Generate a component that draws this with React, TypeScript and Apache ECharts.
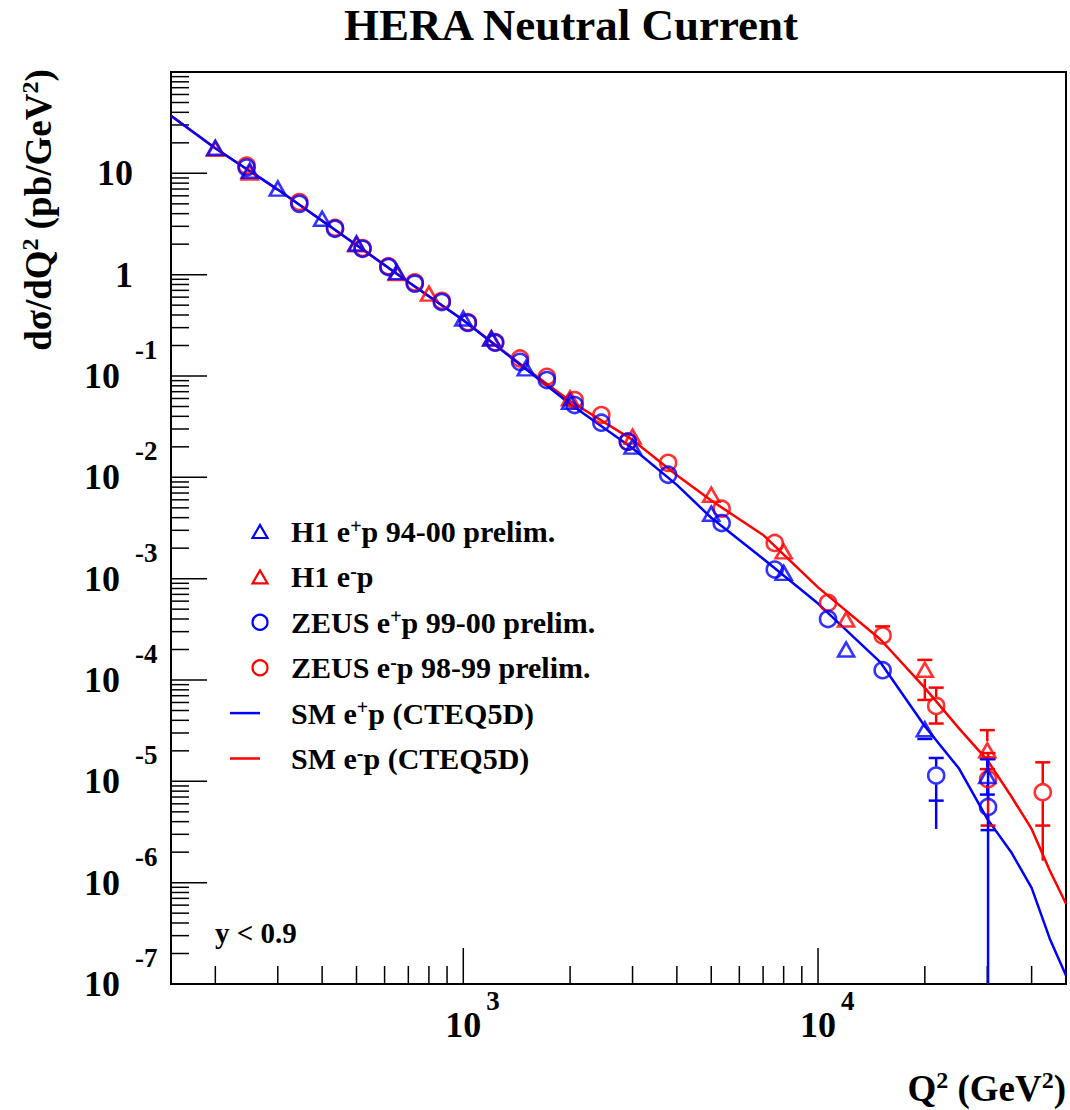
import React, { useEffect, useRef } from 'react';
import * as echarts from 'echarts';

const FONT = "'Liberation Serif', 'Times New Roman', Times, serif";
const BLUE = '#0000ff';
const RED = '#ff0000';

const Q2_MIN = 150;
const Q2_MAX = 50000;
const Y_MIN = 1e-7;
const Y_MAX = 100;

// ---- H1 e+p 94-00 prelim. (blue triangles)
const h1PosQ2 = [200, 250, 300, 400, 500, 650, 1000, 1200, 1500, 2000, 3000, 5000, 8000, 12000, 20000, 30000];
const h1PosVal = [17.9, 10.6, 7.07, 3.56, 2.03, 1.06, 0.369, 0.234, 0.119, 0.0557, 0.0201, 0.00438, 0.00114, 2.0e-4, 3.27e-5, 1.13e-5];
// error bars: [q2, val, totLo, totHi, statLo, statHi]
const h1PosErr = [
  [20000, 3.27e-5, 2.62e-5, 3.89e-5, 2.62e-5, 3.89e-5],
  [30000, 1.13e-5, 7.4e-6, 1.66e-5, 7.4e-6, 1.66e-5],
];

// ---- H1 e-p (red triangles)
const h1NegQ2 = [200, 250, 500, 650, 800, 1200, 2000, 3000, 5000, 8000, 12000, 20000, 30000];
const h1NegVal = [17.5, 10.2, 2.0, 1.04, 0.65, 0.236, 0.0602, 0.0252, 0.00673, 0.00186, 3.95e-4, 1.26e-4, 2.03e-5];
const h1NegErr = [
  [20000, 1.26e-4, 6.36e-5, 1.58e-4, 6.36e-5, 1.58e-4],
  [30000, 2.03e-5, 1.32e-5, 3.2e-5, 1.32e-5, 3.2e-5],
];

// ---- ZEUS e+p 99-00 prelim. (blue circles)
const zeusPosQ2 = [245, 345, 435, 520, 615, 730, 870, 1030, 1230, 1445, 1720, 2060, 2450, 2910, 3780, 5350, 7550, 10670, 15210, 21530, 30150];
const zeusPosVal = [11.4, 5.0, 2.84, 1.8, 1.19, 0.815, 0.537, 0.334, 0.213, 0.138, 0.0912, 0.0517, 0.0346, 0.0225, 0.0106, 0.00354, 0.00123, 4.0e-4, 1.25e-4, 1.14e-5, 5.58e-6];
const zeusPosErr = [
  [21530, 1.14e-5, 3.39e-6, 1.7e-5, 6.45e-6, 1.7e-5],
  [30150, 5.58e-6, 1e-7, 1.66e-5, 3.3e-6, 1.66e-5],
];

// ---- ZEUS e-p 98-99 prelim. (red circles)
const zeusNegQ2 = [245, 345, 435, 520, 615, 730, 870, 1030, 1230, 1445, 1720, 2060, 2450, 2910, 3780, 5350, 7550, 10670, 15210, 21530, 30150, 43000];
const zeusNegVal = [11.9, 5.21, 2.9, 1.83, 1.21, 0.839, 0.552, 0.34, 0.216, 0.149, 0.0982, 0.0579, 0.0412, 0.0225, 0.0139, 0.0049, 0.00225, 5.78e-4, 2.75e-4, 5.55e-5, 1.05e-5, 7.8e-6];
const zeusNegErr = [
  [10670, 5.78e-4, 4.97e-4, 6.82e-4, 4.97e-4, 6.82e-4],
  [15210, 2.75e-4, 2.25e-4, 3.38e-4, 2.25e-4, 3.38e-4],
  [21530, 5.55e-5, 3.72e-5, 8.41e-5, 3.72e-5, 8.41e-5],
  [30150, 1.05e-5, 3.66e-6, 1.9e-5, 3.66e-6, 1.9e-5],
  [43000, 7.8e-6, 1.65e-6, 1.54e-5, 3.66e-6, 1.54e-5],
];

// ---- SM predictions (CTEQ5D)
const smQ2 = [150, 200, 300, 500, 700, 1000, 1500, 2000, 3000, 4000, 5000, 7000, 10000, 15000, 20000, 25000, 30000, 35000, 40000, 45000, 50000];
const smPos = [37.0, 17.7, 6.91, 1.96, 0.847, 0.355, 0.117, 0.0529, 0.0194, 0.00843, 0.00399, 0.00157, 5.68e-4, 1.49e-4, 3.5e-5, 1.33e-5, 4.26e-6, 2.01e-6, 8.9e-7, 2.8e-7, 1.21e-7];
const smNeg = [37.0, 17.7, 6.91, 1.96, 0.847, 0.357, 0.119, 0.0566, 0.0234, 0.0105, 0.0059, 0.0027, 8.2e-4, 2.51e-4, 8.36e-5, 3.31e-5, 1.62e-5, 7.16e-6, 3.39e-6, 1.32e-6, 6.2e-7];

// ---- axis ticks / labels
const xMajorTicks = [1000, 10000];
const xMinorTicks = [200, 300, 400, 500, 600, 700, 800, 900, 2000, 3000, 4000, 5000, 6000, 7000, 8000, 9000, 20000, 30000, 40000];
const xLabelExps = [3, 4];
const yDecadeExps = [-7, -6, -5, -4, -3, -2, -1, 0, 1];
const yMinorMultipliers = [2, 3, 4, 5, 6, 7, 8, 9];
const yLabelExps = [1, 0, -1, -2, -3, -4, -5, -6, -7];

const legendEntries = [
  { kind: 'tri', color: BLUE, rich: '{n|H1 e}{s|+}{n|p 94-00 prelim.}' },
  { kind: 'tri', color: RED, rich: '{n|H1 e}{s|-}{n|p}' },
  { kind: 'circ', color: BLUE, rich: '{n|ZEUS e}{s|+}{n|p 99-00 prelim.}' },
  { kind: 'circ', color: RED, rich: '{n|ZEUS e}{s|-}{n|p 98-99 prelim.}' },
  { kind: 'line', color: BLUE, rich: '{n|SM e}{s|+}{n|p (CTEQ5D)}' },
  { kind: 'line', color: RED, rich: '{n|SM e}{s|-}{n|p (CTEQ5D)}' },
];

const zip = (xs: number[], ys: number[]) => xs.map((x, i) => [x, ys[i]]);

function errorRender(color: string) {
  return (params: any, api: any) => {
    const q = api.value(0);
    const c = api.coord([q, api.value(1)]);
    const tLo = api.coord([q, api.value(2)])[1];
    const tHi = api.coord([q, api.value(3)])[1];
    const sLo = api.coord([q, api.value(4)])[1];
    const sHi = api.coord([q, api.value(5)])[1];
    const r = 9;
    const cw = 7.5;
    const style = { stroke: color, lineWidth: 2.5, fill: null };
    const children: any[] = [];
    if (tHi < c[1] - r) children.push({ type: 'line', shape: { x1: c[0], y1: tHi, x2: c[0], y2: c[1] - r }, style });
    if (tLo > c[1] + r) children.push({ type: 'line', shape: { x1: c[0], y1: c[1] + r, x2: c[0], y2: tLo }, style });
    [sLo, sHi].forEach((y) => {
      if (Math.abs(y - c[1]) > r) children.push({ type: 'line', shape: { x1: c[0] - cw, y1: y, x2: c[0] + cw, y2: y }, style });
    });
    return { type: 'group', children };
  };
}

function buildOption() {
  const gridLeft = 171;
  const gridTop = 72;
  const gridRight = 4;
  const gridBottom = 126;

  const xTickData = [
    ...xMajorTicks.map((v) => [v, Y_MIN, 1]),
    ...xMinorTicks.map((v) => [v, Y_MIN, 0]),
  ];
  const yTickData: number[][] = [];
  yDecadeExps.forEach((e) => {
    if (e > -7) yTickData.push([Q2_MIN, Math.pow(10, e), 1]);
    yMinorMultipliers.forEach((m) => yTickData.push([Q2_MIN, m * Math.pow(10, e), 0]));
  });

  const tickStyle = { stroke: '#000', lineWidth: 1.5 };
  const labelFont = { fontFamily: FONT, fontWeight: 'bold', fill: '#000' };

  const scatter = (name: string, data: number[][], symbol: string, size: any, color: string) => ({
    name,
    type: 'scatter',
    data,
    symbol,
    symbolSize: size,
    z: 5,
    itemStyle: { color: 'transparent', borderColor: color, borderWidth: 2.6 },
    emphasis: { disabled: true },
  });

  const errSeries = (data: number[][], color: string) => ({
    type: 'custom',
    data,
    encode: { x: 0, y: 1 },
    clip: false,
    z: 4,
    renderItem: errorRender(color),
  });

  const legendGraphics: any[] = [];
  legendEntries.forEach((e, i) => {
    const cy = 531.5 + i * 45.4;
    const mx = 260;
    if (e.kind === 'tri') {
      legendGraphics.push({
        type: 'polygon',
        shape: { points: [[mx - 7.5, cy + 6.5], [mx + 7.5, cy + 6.5], [mx, cy - 6.5]] },
        style: { fill: 'none', stroke: e.color, lineWidth: 2.2 },
      });
    } else if (e.kind === 'circ') {
      legendGraphics.push({
        type: 'circle',
        shape: { cx: mx, cy, r: 7.5 },
        style: { fill: 'none', stroke: e.color, lineWidth: 2.2 },
      });
    } else {
      legendGraphics.push({
        type: 'line',
        shape: { x1: 230, y1: cy, x2: 260, y2: cy },
        style: { stroke: e.color, lineWidth: 2.5 },
      });
    }
    legendGraphics.push({
      type: 'text',
      x: 291,
      y: cy,
      style: {
        text: e.rich,
        verticalAlign: 'middle',
        align: 'left',
        rich: {
          n: { fontSize: 30, fontFamily: FONT, fontWeight: 'bold', fill: '#000', lineHeight: 32 },
          s: { fontSize: 20, fontFamily: FONT, fontWeight: 'bold', fill: '#000', verticalAlign: 'top', lineHeight: 18 },
        },
      },
    });
  });

  const supRich = {
    n: { fontSize: 37, fontFamily: FONT, fontWeight: 'bold', fill: '#000', lineHeight: 40 },
    s: { fontSize: 24, fontFamily: FONT, fontWeight: 'bold', fill: '#000', verticalAlign: 'top', lineHeight: 22 },
  };

  return {
    animation: false,
    backgroundColor: '#fff',
    grid: {
      left: gridLeft,
      top: gridTop,
      right: gridRight,
      bottom: gridBottom,
      show: true,
      borderColor: '#000',
      borderWidth: 2,
      outerBoundsMode: 'none',
    },
    xAxis: {
      type: 'log',
      logBase: 10,
      min: Q2_MIN,
      max: Q2_MAX,
      axisLine: { show: false },
      axisTick: { show: false },
      axisLabel: { show: false },
      splitLine: { show: false },
      minorTick: { show: false },
    },
    yAxis: {
      type: 'log',
      logBase: 10,
      min: Y_MIN,
      max: Y_MAX,
      axisLine: { show: false },
      axisTick: { show: false },
      axisLabel: { show: false },
      splitLine: { show: false },
      minorTick: { show: false },
    },
    series: [
      // axis ticks (x)
      {
        type: 'custom',
        data: xTickData,
        encode: { x: 0, y: 1 },
        clip: false,
        silent: true,
        z: 1,
        renderItem: (p: any, api: any) => {
          const c = api.coord([api.value(0), api.value(1)]);
          const len = api.value(2) ? 36 : 18;
          return { type: 'line', shape: { x1: c[0], y1: c[1], x2: c[0], y2: c[1] - len }, style: tickStyle };
        },
      },
      // axis ticks (y)
      {
        type: 'custom',
        data: yTickData,
        encode: { x: 0, y: 1 },
        clip: false,
        silent: true,
        z: 1,
        renderItem: (p: any, api: any) => {
          const c = api.coord([api.value(0), api.value(1)]);
          const len = api.value(2) ? 36 : 18;
          return { type: 'line', shape: { x1: c[0], y1: c[1], x2: c[0] + len, y2: c[1] }, style: tickStyle };
        },
      },
      // x tick labels
      {
        type: 'custom',
        data: xLabelExps.map((e) => [Math.pow(10, e), Y_MIN, e]),
        encode: { x: 0, y: 1 },
        clip: false,
        silent: true,
        z: 1,
        renderItem: (p: any, api: any) => {
          const c = api.coord([api.value(0), api.value(1)]);
          return {
            type: 'group',
            children: [
              { type: 'text', x: c[0], y: c[1] + 41, style: { ...labelFont, text: '10', fontSize: 36, align: 'center', verticalAlign: 'middle' } },
              { type: 'text', x: c[0] + 23, y: c[1] + 17, style: { ...labelFont, text: String(api.value(2)), fontSize: 27, align: 'left', verticalAlign: 'middle' } },
            ],
          };
        },
      },
      // y tick labels
      {
        type: 'custom',
        data: yLabelExps.map((e) => [Q2_MIN, Math.pow(10, e), e]),
        encode: { x: 0, y: 1 },
        clip: false,
        silent: true,
        z: 1,
        renderItem: (p: any, api: any) => {
          const c = api.coord([api.value(0), api.value(1)]);
          const e = api.value(2);
          if (e >= 0) {
            return { type: 'text', x: c[0] - 38, y: c[1], style: { ...labelFont, text: e === 0 ? '1' : '10', fontSize: 36, align: 'right', verticalAlign: 'middle' } };
          }
          return {
            type: 'group',
            children: [
              { type: 'text', x: c[0] - 51, y: c[1], style: { ...labelFont, text: '10', fontSize: 36, align: 'right', verticalAlign: 'middle' } },
              { type: 'text', x: c[0] - 36, y: c[1] - 26, style: { ...labelFont, text: String(e), fontSize: 27, align: 'left', verticalAlign: 'middle' } },
            ],
          };
        },
      },
      {
        name: 'SM e-p (CTEQ5D)',
        type: 'line',
        data: zip(smQ2, smNeg),
        showSymbol: false,
        symbol: 'none',
        lineStyle: { color: RED, width: 2.5 },
        z: 2,
      },
      {
        name: 'SM e+p (CTEQ5D)',
        type: 'line',
        data: zip(smQ2, smPos),
        showSymbol: false,
        symbol: 'none',
        lineStyle: { color: BLUE, width: 2.5 },
        z: 2,
      },
      errSeries(h1NegErr, RED),
      errSeries(zeusNegErr, RED),
      scatter('H1 e-p', zip(h1NegQ2, h1NegVal), 'triangle', [16, 14], RED),
      scatter('ZEUS e-p 98-99 prelim.', zip(zeusNegQ2, zeusNegVal), 'circle', 16, RED),
      errSeries(h1PosErr, BLUE),
      errSeries(zeusPosErr, BLUE),
      scatter('H1 e+p 94-00 prelim.', zip(h1PosQ2, h1PosVal), 'triangle', [16, 14], BLUE),
      scatter('ZEUS e+p 99-00 prelim.', zip(zeusPosQ2, zeusPosVal), 'circle', 16, BLUE),
    ],
    graphic: [
      {
        type: 'text',
        x: 571,
        y: 25,
        style: { text: 'HERA Neutral Current', fontSize: 45, fontFamily: FONT, fontWeight: 'bold', fill: '#000', align: 'center', verticalAlign: 'middle' },
      },
      {
        type: 'text',
        x: 38,
        y: 210,
        rotation: Math.PI / 2,
        style: {
          text: '{n|d\u03c3/dQ}{s|2}{n| (pb/GeV}{s|2}{n|)}',
          align: 'center',
          verticalAlign: 'middle',
          rich: supRich,
        },
      },
      {
        type: 'text',
        x: 1066,
        y: 1088,
        style: {
          text: '{n|Q}{s|2}{n| (GeV}{s|2}{n|)}',
          align: 'right',
          verticalAlign: 'middle',
          rich: supRich,
        },
      },
      {
        type: 'text',
        x: 215,
        y: 933,
        style: { text: 'y < 0.9', fontSize: 29, fontFamily: FONT, fontWeight: 'bold', fill: '#000', align: 'left', verticalAlign: 'middle' },
      },
      ...legendGraphics,
    ],
  };
}

export default function App() {
  const ref = useRef<HTMLDivElement>(null);
  useEffect(() => {
    const chart = echarts.init(ref.current as HTMLDivElement, null, { renderer: 'svg' });
    chart.setOption(buildOption() as any);
    return () => chart.dispose();
  }, []);
  return (
    <div
      ref={ref}
      style={{ position: 'fixed', left: 0, top: 0, width: 1070, height: 1110, background: '#fff' }}
    />
  );
}
